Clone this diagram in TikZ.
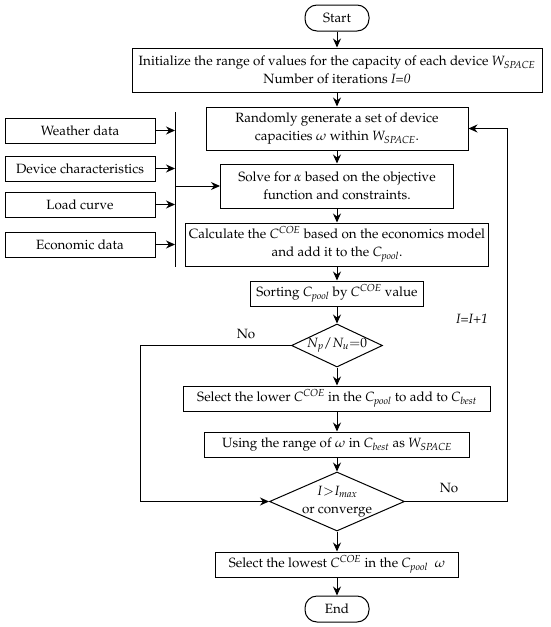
\documentclass[tikz,border=0pt]{standalone}
\usepackage[T1]{fontenc}
\usepackage{mathpazo}
\usetikzlibrary{arrows.meta,positioning,calc,shapes.geometric}
\tikzset{
  bx/.style={draw=black, line width=1pt, align=center, inner sep=2pt},
  prc/.style={bx, minimum height=25pt},
  trm/.style={bx, rounded corners=12pt, minimum width=64pt, minimum height=26pt},
  inp/.style={bx, minimum width=150pt, minimum height=25pt},
  dec/.style={draw=black, line width=1pt, diamond, inner sep=0pt},
  arr/.style={-{Stealth[length=9pt, width=8pt]}, line width=1pt},
  ln/.style={line width=1pt},
  lbl/.style={inner sep=1pt},
}

\begin{document}
\begin{tikzpicture}[x=1pt, y=1pt, font=\fontsize{13.4}{18.5}\selectfont]
  \useasboundingbox[fill=white] (0,0) rectangle (550,-627);
  % main column
  \node[trm] (start) at (337,-18) {Start};
  \node[prc, minimum width=410pt, minimum height=44pt] (init) at (337,-70) {Initialize the range of values for the capacity of each device $W_{\mathit{SPACE}}$\\Number of iterations \textit{I=0}};
  \node[prc, minimum width=262pt, minimum height=43pt] (rand) at (337,-128.5) {Randomly generate a set of device\\capacities $\omega$ within $W_{\mathit{SPACE}}$.};
  \node[prc, minimum width=233pt, minimum height=44pt] (solve) at (337,-186) {Solve for $\alpha$ based on the objective\\function and constraints.};
  \node[prc, minimum width=303pt, minimum height=43pt] (calc) at (337,-244.5) {Calculate the $C^{\mathit{COE}}$ based on the economics model\\and add it to the $C_{\mathit{pool}}$.};
  \node[prc, minimum width=173pt] (sort) at (337,-293.5) {Sorting $C_{\mathit{pool}}$ by $C^{\mathit{COE}}$ value};
  \node[dec, minimum width=91pt, minimum height=43pt] (chk) at (337,-345.5) {};
  \node (chktxt) at (chk) {$N_p/N_u{=}0$};
  \node[prc, minimum width=307pt] (lower) at (337,-398.5) {Select the lower $C^{\mathit{COE}}$ in the $C_{\mathit{pool}}$ to add to $C_{\mathit{best}}$};
  \node[prc, minimum width=265pt] (use) at (337,-444.5) {Using the range of $\omega$ in $C_{\mathit{best}}$ as $W_{\mathit{SPACE}}$};
  \node[dec, minimum width=135pt, minimum height=59pt] (conv) at (337,-501.5) {};
  \node[align=center] (convtxt) at (conv) {$I{>}I_{\mathit{max}}$\\or converge};
  \node[prc, minimum width=243pt] (lowest) at (337,-564.5) {Select the lowest $C^{\mathit{COE}}$ in the $C_{\mathit{pool}}$\ \ $\omega$};
  \node[trm] (stop) at (337,-609) {End};

  % inputs
  \foreach \nm/\txt/\yy in {wth/Weather data/-130.5, dev/Device characteristics/-168.5, lod/Load curve/-204.5, eco/Economic data/-244.5}
    \node[inp] (\nm) at (80,\yy) {\txt};
  \coordinate (bt) at (175,-112);
  \coordinate (bb) at (175,-267);
  \draw[ln] (bt) -- (bb);
  \foreach \nm in {wth,dev,lod,eco}
    \draw[arr] (\nm.east) -- (\nm.east -| bt);
  \draw[arr] (bt |- solve.west) -- (solve.west);

  % flow
  \foreach \a/\b in {start/init, init/rand, rand/solve, solve/calc, calc/sort, sort/chk, chk/lower, lower/use, use/conv, conv/lowest, lowest/stop}
    \draw[arr] (\a) -- (\b);

  % loops
  \coordinate (lp) at (140,-345.5);
  \coordinate (rp) at (507,-501.5);
  \draw[arr] (chk.west) -- (lp) |- (conv.west);
  \draw[arr] (conv.east) -- (rp) |- (rand.east);
  \node[lbl] (no1) at (246,-334) {No};
  \node[lbl] (no2) at (449,-488) {No};
  \node[lbl] (inc) at (472,-319) {\textit{I=I+1}};
\end{tikzpicture}
\end{document}
